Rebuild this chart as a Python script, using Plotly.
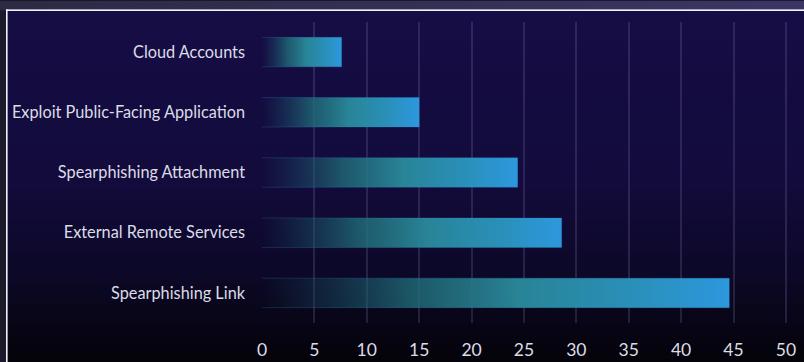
import base64
import plotly.graph_objects as go

# Initial access techniques, listed top to bottom
techniques = [
    "Cloud Accounts",
    "Exploit Public-Facing Application",
    "Spearphishing Attachment",
    "External Remote Services",
    "Spearphishing Link",
]
counts = [7.6, 15.0, 24.4, 28.6, 44.6]
x_ticks = [0, 5, 10, 15, 20, 25, 30, 35, 40, 45, 50]

W, H = 804, 362
M_L, M_R, M_T, M_B = 262, 16, 21.6, 39.4
BAR_HALF = 0.245

# Horizontal fade for each bar: transparent at the base, teal in the middle, blue at the tip
bar_scale = [
    [0.0, "rgba(25,80,100,0)"],
    [0.12, "rgba(28,92,110,0.3)"],
    [0.32, "rgba(33,110,122,0.78)"],
    [0.55, "rgb(40,132,150)"],
    [0.8, "rgb(42,144,186)"],
    [1.0, "rgb(44,152,222)"],
]

fig = go.Figure()
for i, (name, v) in enumerate(zip(techniques, counts)):
    top, bot = i - BAR_HALF, i + BAR_HALF
    fig.add_trace(go.Scatter(
        x=[0, v, v, 0],
        y=[top, top, bot, bot],
        mode="lines",
        fill="toself",
        fillgradient=dict(type="horizontal", colorscale=bar_scale),
        line=dict(color="rgba(60,150,220,0.22)", width=1),
        name=name,
        hoverinfo="text",
        text=f"{name}: {v}",
        showlegend=False,
    ))

# Backdrop: framed panel with a dark navy vertical gradient
svg = f"""<svg xmlns='http://www.w3.org/2000/svg' width='{W}' height='{H}' viewBox='0 0 {W} {H}' preserveAspectRatio='none'>
<defs>
<linearGradient id='panel' x1='0' y1='0' x2='0' y2='1'>
<stop offset='0' stop-color='#150d45'/>
<stop offset='0.5' stop-color='#120b3b'/>
<stop offset='0.75' stop-color='#0c0827'/>
<stop offset='1' stop-color='#040309'/>
</linearGradient>
<linearGradient id='strip' x1='0' y1='0' x2='1' y2='0'>
<stop offset='0' stop-color='#2c2a42'/>
<stop offset='1' stop-color='#3b3564'/>
</linearGradient>
</defs>
<rect x='0' y='0' width='{W}' height='{H}' fill='#1b1a2b'/>
<rect x='0' y='0' width='{W}' height='10' fill='url(#strip)'/>
<rect x='7' y='10' width='{W - 7}' height='{H - 10}' fill='url(#panel)'/>
<rect x='6' y='9' width='{W - 6}' height='1.6' fill='#f2f2f8'/>
<rect x='6' y='9' width='1.6' height='{H - 9}' fill='#f2f2f8'/>
</svg>"""
src = "data:image/svg+xml;base64," + base64.b64encode(svg.encode()).decode()

pw = W - M_L - M_R
ph = H - M_T - M_B
fig.add_layout_image(dict(
    source=src, xref="paper", yref="paper",
    x=-M_L / pw, y=1 + M_T / ph,
    sizex=W / pw, sizey=H / ph,
    xanchor="left", yanchor="top",
    sizing="stretch", layer="below",
))

text_font = dict(family="Lato, 'Open Sans', sans-serif", color="#dcdce6")

fig.update_layout(
    width=W, height=H,
    margin=dict(l=M_L, r=M_R, t=M_T, b=M_B, pad=0, autoexpand=False),
    paper_bgcolor="#0b0822",
    plot_bgcolor="rgba(0,0,0,0)",
    font=text_font,
    xaxis=dict(
        range=[0, 50.2],
        tickvals=x_ticks,
        ticktext=[str(t) for t in x_ticks],
        showgrid=True,
        gridcolor="rgba(150,140,200,0.2)",
        gridwidth=1.5,
        zeroline=False,
        showline=False,
        ticks="",
        tickfont=dict(size=17.5),
        ticklabelstandoff=14,
        ticklabeloverflow="allow",
        automargin=False,
        fixedrange=True,
    ),
    yaxis=dict(
        range=[len(techniques) - 0.5, -0.5],
        tickvals=list(range(len(techniques))),
        ticktext=techniques,
        showgrid=False,
        zeroline=False,
        showline=False,
        ticks="",
        tickfont=dict(size=16.3),
        ticklabelstandoff=16,
        ticklabeloverflow="allow",
        automargin=False,
        fixedrange=True,
    ),
)

fig.write_html("out.html")
